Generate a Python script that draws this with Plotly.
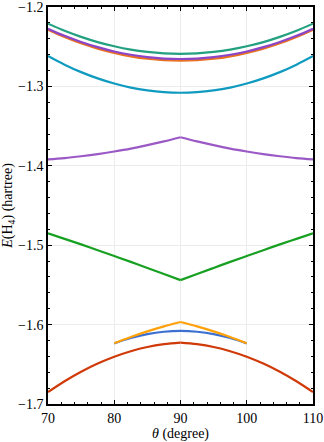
import plotly.graph_objects as go

theta_full = [70, 72.5, 75, 77.5, 80, 82.5, 85, 87.5, 90, 92.5, 95, 97.5, 100, 102.5, 105, 107.5, 110]
theta_mid = [80, 82.5, 85, 87.5, 90, 92.5, 95, 97.5, 100]
y_ticks = [-1.7, -1.6, -1.5, -1.4, -1.3, -1.2]
x_ticks = [70, 80, 90, 100, 110]

e_teal = [-1.221, -1.2299, -1.2376, -1.2442, -1.2495, -1.2537, -1.2566, -1.2584, -1.259,
          -1.2584, -1.2566, -1.2537, -1.2495, -1.2442, -1.2376, -1.2299, -1.221]
e_purple = [-1.2273, -1.2363, -1.244, -1.2506, -1.256, -1.2601, -1.2631, -1.2649, -1.2655,
            -1.2649, -1.2631, -1.2601, -1.256, -1.2506, -1.244, -1.2363, -1.2273]
e_orange = [-1.2286, -1.2377, -1.2457, -1.2524, -1.2578, -1.2621, -1.2652, -1.267, -1.2676,
            -1.267, -1.2652, -1.2621, -1.2578, -1.2524, -1.2457, -1.2377, -1.2286]
e_cyan = [-1.2617, -1.2726, -1.282, -1.2899, -1.2964, -1.3015, -1.3051, -1.3073, -1.308,
          -1.3073, -1.3051, -1.3015, -1.2964, -1.2899, -1.282, -1.2726, -1.2617]
e_violet = [-1.392, -1.3903, -1.388, -1.3853, -1.382, -1.3783, -1.374, -1.3693, -1.364,
            -1.3693, -1.374, -1.3783, -1.382, -1.3853, -1.388, -1.3903, -1.392]
e_green = [-1.485, -1.492, -1.499, -1.5063, -1.5136, -1.521, -1.5286, -1.5362, -1.544,
           -1.5362, -1.5286, -1.521, -1.5136, -1.5063, -1.499, -1.492, -1.485]
e_red = [-1.685, -1.6713, -1.6593, -1.649, -1.6404, -1.6335, -1.6282, -1.6247, -1.6228,
         -1.6247, -1.6282, -1.6335, -1.6404, -1.649, -1.6593, -1.6713, -1.685]
e_yellow = [-1.6236, -1.6156, -1.6085, -1.6022, -1.5967, -1.6022, -1.6085, -1.6156, -1.6236]
e_blue = [-1.6236, -1.6168, -1.6119, -1.609, -1.608, -1.609, -1.6119, -1.6168, -1.6236]

# (x, y, colour, has a cusp at 90 degrees)
series = [
    (theta_full, e_teal, "#22a080", False),
    (theta_full, e_orange, "#e8701e", False),
    (theta_full, e_purple, "#8b45c8", False),
    (theta_full, e_cyan, "#0f9ac0", False),
    (theta_full, e_violet, "#9b59c6", True),
    (theta_full, e_green, "#17a022", True),
    (theta_full, e_red, "#d03a08", True),
    (theta_mid, e_blue, "#3b6fd0", False),
    (theta_mid, e_yellow, "#ffa10a", True),
]

fig = go.Figure()
for x, y, c, cusp in series:
    if cusp:
        k = x.index(90)
        parts = [(x[:k + 1], y[:k + 1]), (x[k:], y[k:])]
    else:
        parts = [(x, y)]
    for px, py in parts:
        fig.add_trace(go.Scatter(x=px, y=py, mode="lines",
                                 line=dict(color=c, width=2.2, shape="spline", smoothing=1),
                                 showlegend=False, hoverinfo="skip"))

font = dict(family="Liberation Serif, Times New Roman, serif", size=14, color="black")
axis_common = dict(
    showline=True, linecolor="black", linewidth=1.5, mirror="ticks",
    ticks="inside", ticklen=4, tickcolor="black", tickwidth=1,
    showgrid=True, gridcolor="#ececec", gridwidth=1, zeroline=False,
    tickfont=font, automargin=False, ticklabeloverflow="allow",
)
fig.update_xaxes(range=[70, 110], tickmode="array", tickvals=x_ticks,
                 minor=dict(dtick=2, tick0=70, ticks="inside", ticklen=2, tickcolor="black", showgrid=False),
                 title=dict(text="<i>θ</i> (degree)", font=font, standoff=2), **axis_common)
fig.update_yaxes(range=[-1.7, -1.2], tickmode="array", tickvals=y_ticks, tickformat=".1f",
                 minor=dict(dtick=0.02, tick0=-1.7, ticks="inside", ticklen=2, tickcolor="black", showgrid=False),
                 title=dict(text="<i>E</i>(H<sub>4</sub>) (hartree)", font=font, standoff=5), **axis_common)
fig.update_layout(width=324, height=442, margin=dict(l=48, r=11, t=7, b=38),
                  plot_bgcolor="white", paper_bgcolor="white", font=font)
fig.write_html("out.html", config={"displayModeBar": False},
               post_script="document.body.style.margin='0';")
